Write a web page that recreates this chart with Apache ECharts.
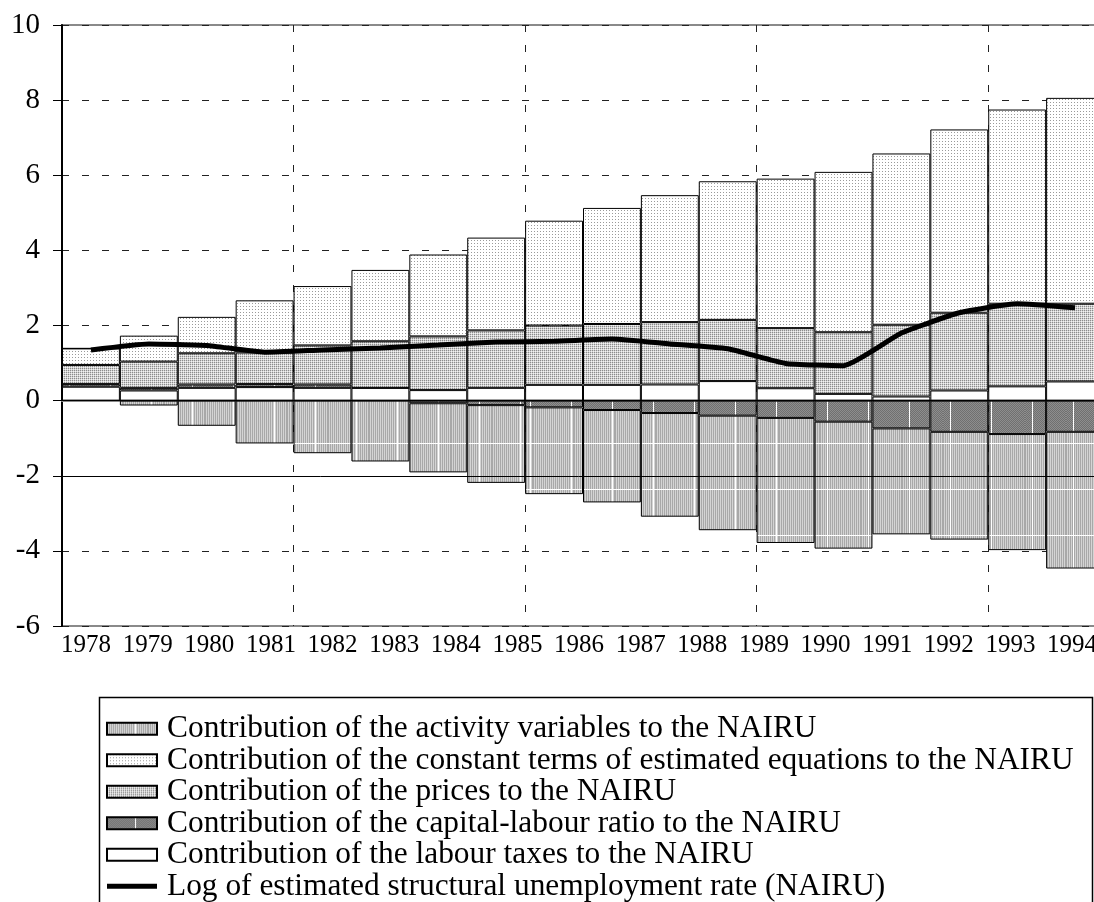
<!DOCTYPE html>
<html>
<head>
<meta charset="utf-8">
<style>
  html, body { margin: 0; padding: 0; background: #fff; }
  #chart { width: 1094px; height: 902px; }
</style>
<script src="https://cdn.jsdelivr.net/npm/echarts@6/dist/echarts.min.js"></script>
</head>
<body>
<div id="chart"></div>
<script>
// year labels printed under the axis (17) and the bar slots they sit over (18)
const years = ['1978','1979','1980','1981','1982','1983','1984','1985','1986','1987','1988','1989','1990','1991','1992','1993','1994']
const slots = ['1','2','3','4','5','6','7','8','9','10','11','12','13','14','15','16','17','18']

// contributions to the NAIRU, one value per bar slot
const labourTaxes   = [0.37, 0.27, 0.34, 0.36, 0.34, 0.34, 0.28, 0.34, 0.42, 0.42, 0.43, 0.52, 0.33, 0.18, 0.11, 0.27, 0.38, 0.51]
const capitalLabour = [0.07, 0.07, 0.09, 0.08, 0.09, 0, -0.07, -0.12, -0.18, -0.25, -0.33, -0.40, -0.46, -0.56, -0.74, -0.83, -0.89, -0.83]
const prices        = [0.51, 0.70, 0.83, 0.84, 1.04, 1.24, 1.43, 1.53, 1.58, 1.62, 1.66, 1.63, 1.60, 1.64, 1.91, 2.07, 2.20, 2.07]
const constantTerms = [0.44, 0.69, 0.97, 1.39, 1.58, 1.90, 2.18, 2.47, 2.79, 3.09, 3.38, 3.69, 3.98, 4.27, 4.56, 4.88, 5.17, 5.48]
const activity      = [0, -0.13, -0.67, -1.14, -1.40, -1.62, -1.84, -2.07, -2.31, -2.46, -2.76, -3.05, -3.33, -3.38, -2.82, -2.87, -3.09, -3.64]
const nairu         = [1.35, 1.51, 1.47, 1.29, 1.35, 1.40, 1.48, 1.56, 1.58, 1.64, 1.51, 1.38, 0.99, 0.93, 1.80, 2.34, 2.58, 2.47]

const yTicks = { min: -6, max: 10, step: 2 }

const names = {
    activity: 'Contribution of the activity variables to the NAIRU',
    constant: 'Contribution of the constant terms of estimated equations to the NAIRU',
    prices: 'Contribution of the prices to the NAIRU',
    capital: 'Contribution of the capital-labour ratio to the NAIRU',
    labour: 'Contribution of the labour taxes to the NAIRU',
    nairu: 'Log of estimated structural unemployment rate (NAIRU)'
}

// little canvas tiles to mimic the old hatch fills
function tile(w, h, paint) {
    const c = document.createElement('canvas')
    c.width = w
    c.height = h
    paint(c.getContext('2d'), w, h)
    return { image: c, repeat: 'repeat' }
}
// the scanned fills carry faint white seams, which jump a little between groups of bars
function activityTile(seam) {
    return tile(41, 46, (ctx, w, h) => {
        for (let x = 0; x < w; x++) {
            ctx.fillStyle = x % 2 ? '#d4d4d4' : '#a8a8a8'
            ctx.fillRect(x, 0, 1, h)
        }
        ctx.fillStyle = '#fff'
        ctx.fillRect(seam, 0, 1, h)
        ctx.fillRect(0, 29, w, 1)
    })
}
function capitalTile(seam) {
    return tile(41, 2, (ctx, w, h) => {
        for (let x = 0; x < w; x++) {
            ctx.fillStyle = x % 2 ? '#707070' : '#8e8e8e'
            ctx.fillRect(x, 0, 1, 1)
            ctx.fillStyle = x % 2 ? '#8e8e8e' : '#707070'
            ctx.fillRect(x, 1, 1, 1)
        }
        ctx.fillStyle = '#fff'
        ctx.fillRect(seam, 0, 1, h)
    })
}
const seamOf = i => (i < 8 ? 28 : i < 13 ? 38 : 7)
const activityFills = { 28: activityTile(28), 38: activityTile(38), 7: activityTile(7) }
const capitalFills = { 28: capitalTile(28), 38: capitalTile(38), 7: capitalTile(7) }

const pricesFill = tile(2, 2, ctx => {
    ctx.fillStyle = '#d2d2d2'
    ctx.fillRect(0, 0, 2, 2)
    ctx.fillStyle = '#8c8c8c'
    ctx.fillRect(0, 0, 1, 1)
    ctx.fillStyle = '#f2f2f2'
    ctx.fillRect(1, 1, 1, 1)
})
const constantFill = tile(3, 3, ctx => {
    ctx.fillStyle = '#fff'
    ctx.fillRect(0, 0, 3, 3)
    ctx.fillStyle = '#9a9a9a'
    ctx.fillRect(0, 0, 1, 1)
})

const font = 'Liberation Serif, Times New Roman, serif'
const dashed = { type: [7, 13], color: '#222', width: 1 }
const edge = { borderColor: '#000', borderWidth: 1 }

function bars(name, values, fillAt) {
    return {
        type: 'bar',
        name,
        stack: 'nairu',
        xAxisIndex: 0,
        yAxisIndex: 0,
        barCategoryGap: '0%',
        itemStyle: Object.assign({ color: fillAt(0) }, edge),
        data: values.map((v, i) => ({ value: v, itemStyle: { color: fillAt(i) } }))
    }
}

const chart = echarts.init(document.getElementById('chart'), null, { renderer: 'canvas' })
chart.setOption({
    animation: false,
    backgroundColor: '#fff',
    grid: [
        // the plot runs a little past the right edge of the picture
        { left: 62, width: 1042, top: 25, bottom: 276, outerBoundsMode: 'none', show: true, borderColor: '#8a8a8a', borderWidth: 2 },
        { left: 86, right: 22, top: 25, bottom: 276, outerBoundsMode: 'none' }
    ],
    xAxis: [
        {
            gridIndex: 0,
            type: 'category',
            data: slots,
            boundaryGap: true,
            axisLine: { lineStyle: { color: '#8a8a8a', width: 2 } },
            axisTick: { show: false },
            axisLabel: { show: false },
            splitLine: { show: true, interval: 3, lineStyle: dashed }
        },
        {
            gridIndex: 1,
            type: 'category',
            data: years,
            boundaryGap: false,
            axisLine: { show: false },
            axisTick: { show: false },
            axisLabel: { interval: 0, margin: 7, fontSize: 25, fontFamily: font, color: '#000' },
            splitLine: { show: false }
        }
    ],
    yAxis: [
        {
            gridIndex: 0,
            type: 'value',
            min: yTicks.min,
            max: yTicks.max,
            interval: yTicks.step,
            axisLine: { show: true, lineStyle: { color: '#000', width: 2 } },
            axisTick: { show: true, length: 9, lineStyle: { color: '#000' } },
            axisLabel: { margin: 22, fontSize: 29, fontFamily: font, color: '#000' },
            splitLine: { show: true, lineStyle: dashed }
        },
        { gridIndex: 1, type: 'value', show: false }
    ],
    legend: {
        orient: 'vertical',
        left: 106,
        top: 713,
        padding: 0,
        itemGap: 0,
        itemWidth: 50,
        itemHeight: 12,
        selectedMode: false,
        textStyle: { fontSize: 31.4, lineHeight: 31.5, fontFamily: font, color: '#000', padding: [0, 0, 0, 5] },
        data: [
            { name: names.activity, icon: 'rect' },
            { name: names.constant, icon: 'rect' },
            { name: names.prices, icon: 'rect' },
            { name: names.capital, icon: 'rect' },
            { name: names.labour, icon: 'rect' },
            { name: names.nairu, icon: 'path://M0 0H50V5H0Z' }
        ]
    },
    graphic: [{
        type: 'rect',
        left: 97,
        top: 695,
        shape: { width: 993, height: 260 },
        style: { fill: null, stroke: '#000', lineWidth: 1.5 },
        silent: true
    }],
    series: [
        bars(names.labour, labourTaxes, () => '#fff'),
        bars(names.capital, capitalLabour, i => capitalFills[seamOf(i)]),
        bars(names.prices, prices, () => pricesFill),
        bars(names.constant, constantTerms, () => constantFill),
        bars(names.activity, activity, i => activityFills[seamOf(i)]),
        {
            name: names.nairu,
            type: 'line',
            xAxisIndex: 0,
            yAxisIndex: 0,
            data: nairu,
            smooth: 0.15,
            symbol: 'none',
            z: 5,
            itemStyle: { color: '#000' },
            lineStyle: { color: '#000', width: 5 },
            markLine: {
                silent: true,
                symbol: 'none',
                label: { show: false },
                lineStyle: { type: 'solid', color: '#000', width: 1 },
                data: [{ yAxis: 0 }, { yAxis: -2 }]
            }
        }
    ]
})
</script>
</body>
</html>
